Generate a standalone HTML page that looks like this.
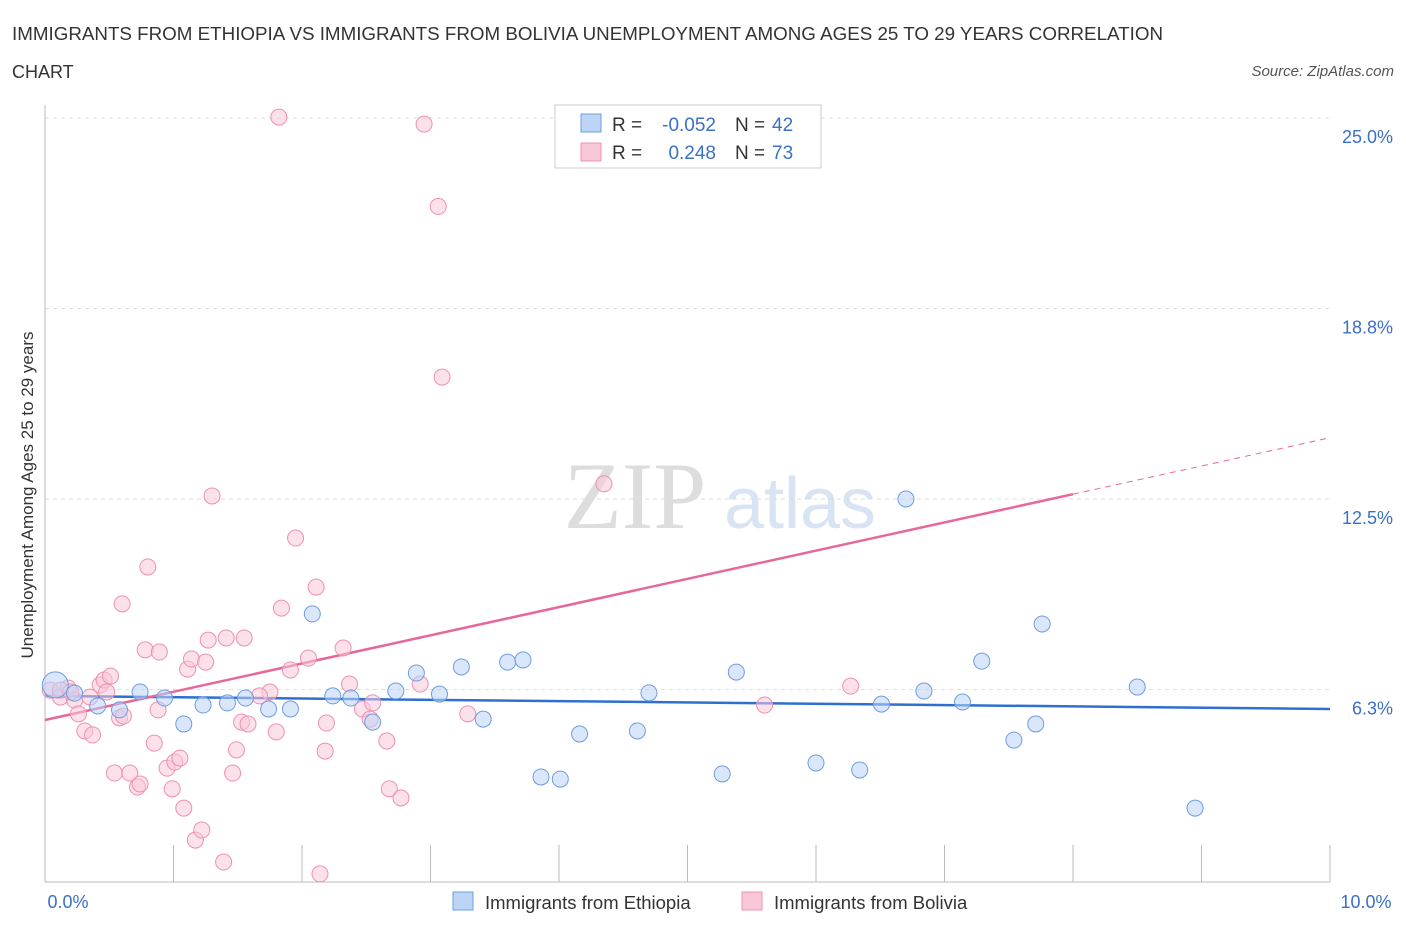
<!DOCTYPE html>
<html><head><meta charset="utf-8"><style>
body{margin:0;background:#fff;font-family:"Liberation Sans",sans-serif}
</style></head><body>
<svg width="1406" height="930" xmlns="http://www.w3.org/2000/svg">
<text x="12" y="40" font-size="18" fill="#333" textLength="1151" lengthAdjust="spacingAndGlyphs">IMMIGRANTS FROM ETHIOPIA VS IMMIGRANTS FROM BOLIVIA UNEMPLOYMENT AMONG AGES 25 TO 29 YEARS CORRELATION</text>
<text x="12" y="78" font-size="18" fill="#333">CHART</text>
<text x="1394" y="76" font-size="15" fill="#555" font-style="italic" text-anchor="end">Source: ZipAtlas.com</text>
<text x="635" y="528" font-size="95" fill="#ddd" font-family="Liberation Serif" text-anchor="middle">ZIP</text>
<text x="800" y="528" font-size="72" fill="#d8e4f4" text-anchor="middle">atlas</text>
<g id="grid"></g><g id="axes"></g><g id="trend"></g><g id="pts"></g>
<text x="33" y="495" font-size="17" fill="#333" text-anchor="middle" transform="rotate(-90 33 495)">Unemployment Among Ages 25 to 29 years</text>
<text x="68" y="908" font-size="18" fill="#3a70c8" text-anchor="middle">0.0%</text>
<text x="1366" y="908" font-size="18" fill="#3a70c8" text-anchor="middle">10.0%</text>
<g>
<rect x="555" y="105" width="266" height="63" fill="#fff" stroke="#ccc"/>
<rect x="581" y="114" width="20" height="18" fill="#bcd4f5" stroke="#6d9de0"/>
<rect x="581" y="143" width="20" height="18" fill="#f9c8d8" stroke="#ee90b0"/>
<text x="612" y="131" font-size="19" fill="#333">R =</text>
<text x="716" y="131" font-size="19" fill="#3a70c8" text-anchor="end">-0.052</text>
<text x="735" y="131" font-size="19" fill="#333">N =</text>
<text x="772" y="131" font-size="19" fill="#3a70c8">42</text>
<text x="612" y="159" font-size="19" fill="#333">R =</text>
<text x="716" y="159" font-size="19" fill="#3a70c8" text-anchor="end">0.248</text>
<text x="735" y="159" font-size="19" fill="#333">N =</text>
<text x="772" y="159" font-size="19" fill="#3a70c8">73</text>
</g>
<g>
<rect x="453" y="892" width="20" height="18" fill="#bcd4f5" stroke="#6d9de0"/>
<text x="485" y="909" font-size="18.5" fill="#333">Immigrants from Ethiopia</text>
<rect x="742" y="892" width="20" height="18" fill="#f9c8d8" stroke="#ee90b0"/>
<text x="774" y="909" font-size="18.5" fill="#333">Immigrants from Bolivia</text>
</g>
</svg>
<script>
const yTicks=[6.25,12.5,18.75,25];
const yTickLabels=["6.3%","12.5%","18.8%","25.0%"];
const ethX=[0.08,0.23,0.41,0.58,0.74,0.93,1.08,1.23,1.42,1.56,1.74,1.91,2.08,2.24,2.38,2.55,2.73,2.89,3.07,3.24,3.41,3.6,3.72,3.86,4.01,4.16,4.61,4.7,5.27,5.38,6.0,6.34,6.51,6.7,6.84,7.14,7.29,7.54,7.71,7.76,8.5,8.95];
const ethY=[6.4,6.13,5.71,5.58,6.17,5.97,5.12,5.74,5.81,5.97,5.61,5.61,8.73,6.04,5.97,5.18,6.2,6.79,6.1,6.99,5.28,7.15,7.22,3.38,3.31,4.79,4.89,6.14,3.48,6.82,3.84,3.61,5.77,12.5,6.2,5.84,7.18,4.59,5.12,8.4,6.33,2.36];
const bolX=[0.04,0.12,0.18,0.23,0.26,0.31,0.37,0.43,0.46,0.51,0.54,0.58,0.61,0.6,0.66,0.72,0.74,0.78,0.8,0.85,0.88,0.89,0.95,0.99,1.01,1.05,1.08,1.11,1.14,1.17,1.22,1.25,1.27,1.3,1.39,1.41,1.46,1.49,1.53,1.55,1.58,1.75,1.8,1.84,1.91,1.95,2.05,2.11,2.14,2.18,2.19,2.32,2.37,2.47,2.53,2.55,2.66,2.68,2.77,2.92,2.95,3.06,3.09,3.29,4.35,5.6,6.27,1.82,0.12,0.2,0.35,0.48,1.67];
const bolY=[6.23,6.0,6.3,5.9,5.45,4.89,4.76,6.4,6.56,6.69,3.51,5.32,5.38,9.06,3.51,3.05,3.15,7.55,10.27,4.49,5.58,7.48,3.67,2.99,3.87,4.0,2.36,6.92,7.25,1.31,1.64,7.15,7.87,12.6,0.59,7.94,3.51,4.27,5.18,7.94,5.12,6.17,4.86,8.92,6.89,11.22,7.28,9.61,0.2,4.23,5.15,7.61,6.43,5.61,5.28,5.81,4.56,2.99,2.69,6.43,24.8,22.1,16.5,5.45,13.0,5.74,6.36,25.03,6.23,6.17,6.0,6.17,6.04];
const ethTrend=[6.04,5.61];
const bolTrend=[5.25,0.926];
const NS="http://www.w3.org/2000/svg";
const X=v=>45+v*128.5, Y=v=>880-v*30.48;
function mk(t,a,p){const e=document.createElementNS(NS,t);for(const k in a)e.setAttribute(k,a[k]);document.getElementById(p).appendChild(e);return e;}
yTicks.forEach((t,i)=>{const l=mk('line',{x1:45,x2:1330,y1:Y(t),y2:Y(t),stroke:'#ddd','stroke-dasharray':'4 4'},'grid');


const tx=mk('text',{x:1393,y:Y(t)+25,'font-size':18,fill:'#3a70c8','text-anchor':'end'},'grid');tx.textContent=yTickLabels[i];

});
const ax=mk('line',{x1:45,x2:45,y1:105,y2:882,stroke:'#bbb'},'axes');


const bx=mk('line',{x1:45,x2:1330,y1:882,y2:882,stroke:'#bbb'},'axes');


for(let k=0;k<=10;k++){const t=mk('line',{x1:X(k),x2:X(k),y1:845,y2:882,stroke:'#bbb'},'axes');

}
function dot(x,y,f,s,n,r){const c=mk('circle',{cx:X(x),cy:Y(y),r:r||8,fill:f,'fill-opacity':0.55,stroke:s,'stroke-width':1},'pts');

}
bolX.forEach((x,i)=>dot(x,bolY[i],'#f9c8d8','#ee90b0','bolivia-point'));
ethX.forEach((x,i)=>dot(x,ethY[i],'#bcd4f5','#6d9de0','ethiopia-point',i==0?13:8));
const t1=mk('line',{x1:X(0),y1:Y(ethTrend[0]),x2:X(10),y2:Y(ethTrend[1]),stroke:'#2f6fd0','stroke-width':2.5},'trend');


const t2=mk('line',{x1:X(0),y1:Y(bolTrend[0]),x2:X(8),y2:Y(bolTrend[0]+8*bolTrend[1]),stroke:'#e8679a','stroke-width':2.5},'trend');


const t3=mk('line',{x1:X(8),y1:Y(bolTrend[0]+8*bolTrend[1]),x2:X(10),y2:Y(bolTrend[0]+10*bolTrend[1]),stroke:'#e8679a','stroke-width':1,'stroke-dasharray':'6 5'},'trend');


</script>
</body></html>
